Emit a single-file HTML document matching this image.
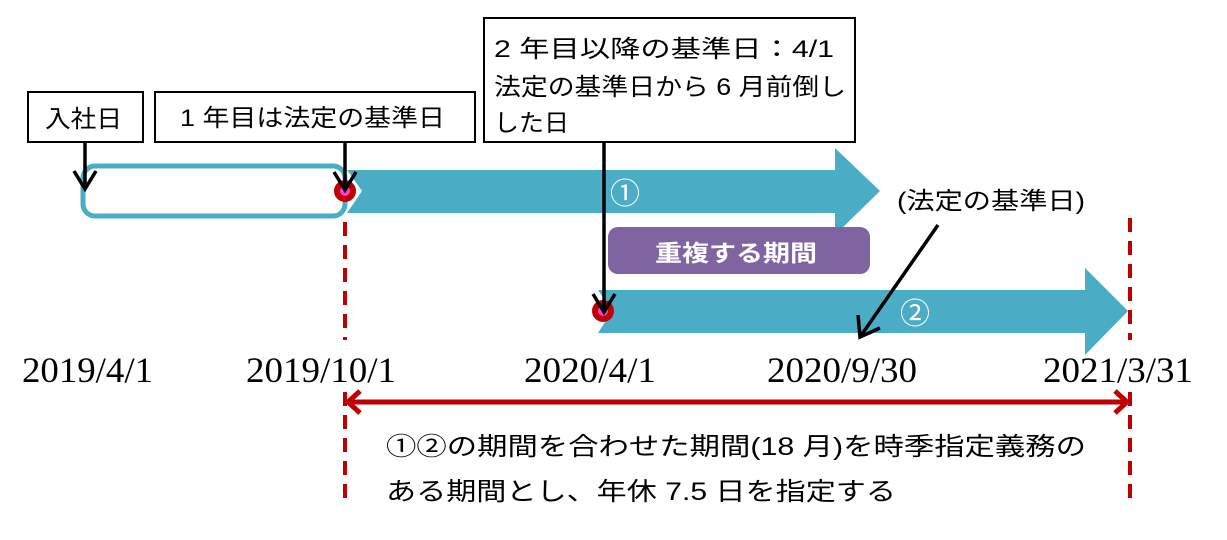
<!DOCTYPE html>
<html><head><meta charset="utf-8"><style>
html,body{margin:0;padding:0;background:#fff;}
svg{display:block;}
.j{font-family:"Liberation Sans","Noto Sans CJK JP",sans-serif;}
.d{font-family:"Liberation Serif",serif;font-size:36px;}
</style></head><body>
<svg width="1227" height="540" viewBox="0 0 1227 540" xmlns="http://www.w3.org/2000/svg">
<!-- boxes -->
<rect x="28" y="92" width="115" height="50" fill="#fff" stroke="#000" stroke-width="2"/>
<text x="45" y="127" class="j" font-size="24" textLength="77" lengthAdjust="spacingAndGlyphs">入社日</text>
<rect x="155" y="92" width="320" height="50" fill="#fff" stroke="#000" stroke-width="2"/>
<text x="180" y="126" class="j" font-size="24" textLength="265" lengthAdjust="spacingAndGlyphs">1 年目は法定の基準日</text>
<rect x="484" y="18" width="371" height="124" fill="#fff" stroke="#000" stroke-width="2"/>
<text x="494" y="57" class="j" font-size="24" textLength="340" lengthAdjust="spacingAndGlyphs">2 年目以降の基準日：4/1</text>
<text x="494" y="95" class="j" font-size="24" textLength="352" lengthAdjust="spacingAndGlyphs">法定の基準日から 6 月前倒し</text>
<text x="494" y="131" class="j" font-size="24" textLength="75" lengthAdjust="spacingAndGlyphs">した日</text>
<!-- first-year rounded rect -->
<rect x="83" y="166" width="262" height="50" rx="12" fill="none" stroke="#4bacc6" stroke-width="5"/>
<!-- arrow 1 -->
<polygon points="347,170 835,170 835,148 880,191 835,235 835,213 347,213 362,191" fill="#4bacc6"/>
<text x="625" y="204" class="j" font-size="30" fill="#fff" text-anchor="middle">①</text>
<!-- arrow 2 -->
<polygon points="598,290 1085,290 1085,268 1128,311 1085,355 1085,333 598,333 612,311" fill="#4bacc6"/>
<text x="915" y="324" class="j" font-size="30" fill="#fff" text-anchor="middle">②</text>
<!-- purple -->
<rect x="608" y="227" width="262" height="47" rx="10" fill="#8064a2"/>
<text x="655" y="261" class="j" font-size="23" font-weight="bold" fill="#fff" textLength="162" lengthAdjust="spacingAndGlyphs">重複する期間</text>
<!-- circles -->
<circle cx="345" cy="191" r="11" fill="#c00000"/><circle cx="345" cy="191" r="5" fill="#ff3fd0"/>
<circle cx="603" cy="311" r="11" fill="#c00000"/><circle cx="603" cy="311" r="5" fill="#ff3fd0"/>
<!-- black pointer lines -->
<g stroke="#000" stroke-width="3.5" fill="none">
<line x1="85" y1="142" x2="85" y2="189"/><polyline points="74,171 85,189 96,171"/>
<line x1="345" y1="142" x2="345" y2="190"/><polyline points="334,172 345,190 356,172"/>
<line x1="604" y1="142" x2="604" y2="312"/><polyline points="593,294 604,312 615,294"/>
<line x1="938" y1="225" x2="860" y2="337"/><polyline points="858,315 860,337 880,328"/>
</g>
<text x="897" y="209" class="j" font-size="24" textLength="188" lengthAdjust="spacingAndGlyphs">(法定の基準日)</text>
<!-- red dashed -->
<g stroke="#c00000" stroke-width="4" stroke-dasharray="14,9" fill="none">
<line x1="345" y1="222" x2="345" y2="340"/>
<line x1="1130" y1="218" x2="1130" y2="340"/>
<line x1="345" y1="392" x2="345" y2="500"/>
<line x1="1130" y1="392" x2="1130" y2="505"/>
</g>
<!-- dates -->
<g class="d">
<text x="22" y="382" textLength="131" lengthAdjust="spacingAndGlyphs">2019/4/1</text>
<text x="246" y="382" textLength="150" lengthAdjust="spacingAndGlyphs">2019/10/1</text>
<text x="524" y="382" textLength="132" lengthAdjust="spacingAndGlyphs">2020/4/1</text>
<text x="767" y="382" textLength="150" lengthAdjust="spacingAndGlyphs">2020/9/30</text>
<text x="1043" y="382" textLength="150" lengthAdjust="spacingAndGlyphs">2021/3/31</text>
</g>
<!-- red double arrow -->
<g stroke="#c00000" stroke-width="5" fill="none">
<line x1="348" y1="402" x2="1127" y2="402"/>
<polyline points="360,391 348,402 360,413"/>
<polyline points="1115,391 1127,402 1115,413"/>
</g>
<text x="386" y="455" class="j" font-size="25" textLength="700" lengthAdjust="spacingAndGlyphs">①②の期間を合わせた期間(18 月)を時季指定義務の</text>
<text x="386" y="500" class="j" font-size="25" textLength="510" lengthAdjust="spacingAndGlyphs">ある期間とし、年休 7.5 日を指定する</text>
</svg>
</body></html>
